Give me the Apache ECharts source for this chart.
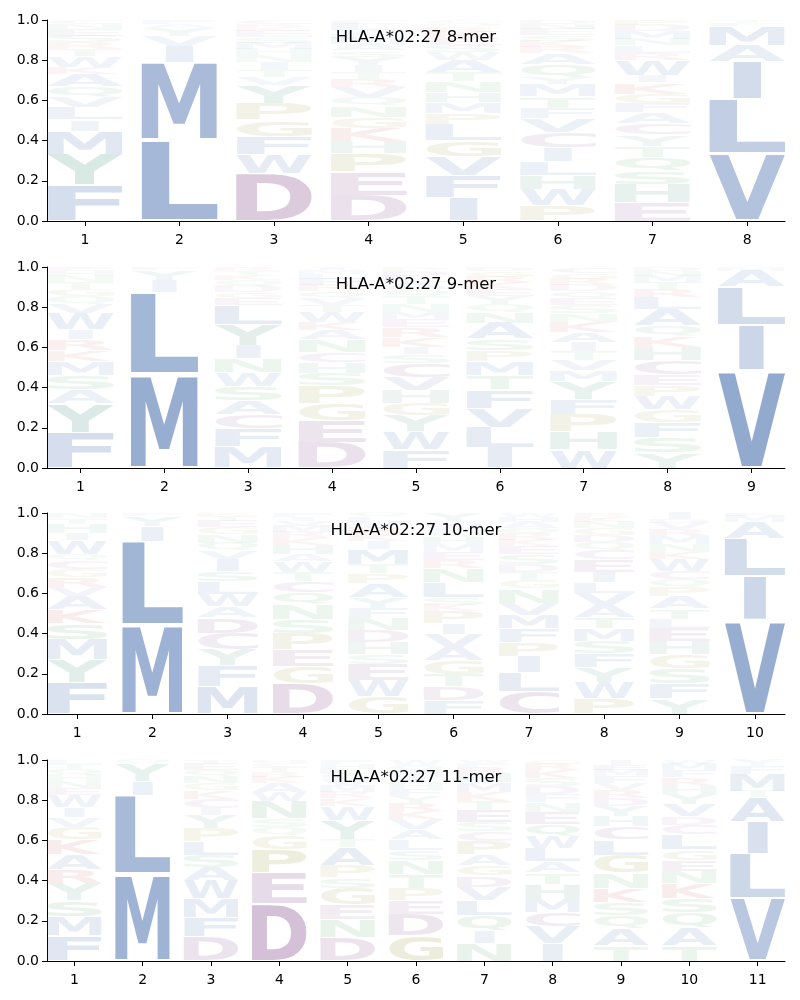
<!DOCTYPE html>
<html>
<head>
<meta charset="utf-8">
<title>HLA-A*02:27 motifs</title>
<script src="https://cdn.jsdelivr.net/npm/echarts@6/dist/echarts.min.js"></script>
<style>
  html, body { margin: 0; background: #fff; }
  #main { width: 800px; height: 1000px; }
</style>
</head>
<body>
<div id="main"></div>
<script>
// one column per peptide position, letters listed bottom -> top with their share
const titles = ['HLA-A*02:27 8-mer', 'HLA-A*02:27 9-mer', 'HLA-A*02:27 10-mer', 'HLA-A*02:27 11-mer'];

const logo8 = [
  [['F',.175],['Y',.15],['M',.115],['I',.055],['L',.06],['V',.05],['Q',.05],['A',.06],['K',.035],['W',.055],['T',.033],['R',.033],['S',.033],['E',.033],['N',.025],['C',.02]],
  [['L',.40],['M',.385],['I',.08],['V',.05],['Y',.04],['A',.02],['F',.02]],
  [['D',.235],['W',.095],['F',.09],['G',.08],['P',.08],['Y',.09],['V',.04],['T',.035],['I',.04],['N',.035],['H',.03],['M',.03],['S',.03],['E',.03],['K',.02],['R',.015],['C',.02]],
  [['D',.125],['E',.115],['P',.09],['H',.06],['K',.065],['G',.055],['N',.055],['Q',.04],['V',.05],['R',.04],['T',.035],['I',.035],['Y',.04],['S',.03],['A',.03],['M',.03],['F',.02],['W',.02],['L',.03],['C',.02]],
  [['I',.115],['F',.11],['V',.095],['G',.08],['L',.08],['P',.055],['M',.055],['H',.05],['N',.055],['T',.045],['A',.06],['W',.04],['S',.035],['E',.035],['K',.03],['R',.025],['Q',.02],['C',.015]],
  [['P',.075],['W',.08],['H',.07],['L',.07],['I',.07],['C',.075],['V',.07],['F',.05],['T',.055],['M',.06],['Y',.035],['Q',.065],['A',.055],['R',.03],['K',.03],['S',.03],['E',.03],['N',.025],['D',.02]],
  [['E',.09],['H',.09],['S',.065],['Q',.065],['T',.055],['Y',.055],['C',.055],['A',.055],['F',.045],['G',.045],['K',.055],['I',.035],['W',.075],['R',.035],['L',.035],['N',.03],['M',.04],['D',.03],['P',.025]],
  [['V',.335],['L',.27],['I',.19],['A',.08],['M',.095],['F',.015],['T',.015]]
];

const logo9 = [
  [['F',.175],['Y',.145],['A',.07],['S',.07],['M',.07],['K',.055],['R',.055],['I',.05],['W',.08],['V',.045],['Q',.04],['G',.035],['T',.035],['N',.03],['H',.025],['E',.02]],
  [['M',.465],['L',.41],['I',.06],['Y',.05],['F',.015]],
  [['M',.105],['F',.09],['C',.07],['A',.07],['S',.07],['W',.07],['N',.07],['I',.065],['Y',.105],['L',.095],['E',.035],['G',.03],['D',.03],['Q',.03],['K',.025],['T',.02],['R',.02]],
  [['D',.125],['E',.105],['G',.085],['P',.085],['S',.06],['H',.055],['C',.05],['N',.06],['A',.045],['K',.04],['W',.05],['T',.035],['V',.035],['Q',.03],['R',.03],['F',.03],['L',.025],['M',.02],['I',.015]],
  [['F',.09],['W',.09],['Y',.08],['G',.06],['H',.065],['V',.065],['C',.07],['S',.045],['I',.035],['K',.05],['R',.05],['E',.04],['M',.035],['N',.04],['T',.04],['Q',.035],['A',.035],['L',.03],['D',.025],['P',.02]],
  [['I',.1],['L',.1],['V',.095],['F',.09],['T',.07],['M',.07],['P',.055],['S',.055],['A',.08],['N',.05],['Q',.04],['Y',.04],['E',.035],['K',.03],['R',.03],['G',.03],['D',.02]],
  [['W',.09],['H',.09],['P',.085],['F',.075],['Y',.085],['M',.055],['V',.05],['T',.045],['I',.045],['A',.05],['K',.05],['N',.04],['S',.04],['E',.035],['Q',.035],['D',.03],['R',.03],['G',.03],['C',.03]],
  [['Y',.075],['S',.075],['F',.075],['G',.065],['W',.065],['P',.055],['E',.05],['C',.07],['H',.065],['K',.055],['Q',.05],['A',.08],['L',.06],['R',.04],['T',.035],['M',.03],['N',.025],['D',.02]],
  [['V',.485],['I',.225],['L',.19],['A',.08],['M',.02]]
];

const logo10 = [
  [['F',.155],['Y',.115],['M',.1],['S',.08],['K',.07],['A',.065],['V',.045],['R',.05],['G',.04],['C',.045],['Q',.03],['W',.07],['I',.035],['H',.045],['T',.03],['N',.025]],
  [['M',.44],['L',.42],['I',.075],['Y',.05],['F',.015]],
  [['M',.135],['F',.1],['Y',.08],['C',.08],['D',.075],['A',.055],['W',.06],['L',.06],['S',.05],['I',.06],['V',.04],['Q',.04],['N',.04],['G',.035],['E',.03],['T',.025],['K',.015]],
  [['D',.15],['G',.085],['E',.08],['P',.08],['S',.07],['N',.075],['Q',.06],['C',.055],['T',.045],['W',.05],['A',.035],['H',.045],['K',.035],['R',.03],['M',.03],['V',.025],['I',.02],['F',.02]],
  [['G',.085],['W',.08],['E',.08],['S',.05],['H',.06],['D',.06],['N',.06],['F',.05],['Y',.05],['A',.07],['P',.05],['T',.045],['M',.075],['I',.04],['K',.035],['R',.03],['V',.03],['L',.025],['Q',.02]],
  [['F',.07],['D',.065],['T',.06],['G',.07],['A',.065],['V',.065],['I',.055],['P',.06],['K',.03],['S',.035],['L',.075],['N',.07],['R',.04],['E',.04],['M',.04],['H',.035],['Q',.03],['W',.03],['C',.02],['Y',.04]],
  [['C',.11],['L',.095],['I',.08],['P',.07],['F',.07],['M',.065],['V',.06],['N',.07],['G',.04],['T',.04],['D',.04],['S',.05],['E',.04],['K',.03],['R',.03],['Q',.03],['A',.03],['H',.025],['W',.02]],
  [['P',.075],['W',.08],['Y',.075],['F',.07],['S',.06],['M',.06],['T',.055],['A',.06],['V',.06],['L',.055],['I',.05],['E',.06],['C',.045],['Q',.04],['D',.035],['G',.035],['N',.03],['K',.025],['R',.02]],
  [['Y',.075],['F',.075],['S',.075],['G',.07],['H',.065],['E',.065],['L',.045],['T',.05],['A',.06],['P',.045],['Q',.04],['C',.04],['W',.06],['K',.035],['N',.04],['M',.04],['R',.035],['V',.03],['D',.02],['I',.03]],
  [['V',.465],['I',.22],['L',.19],['A',.08],['M',.03],['F',.015]]
];

const logo11 = [
  [['F',.125],['M',.095],['S',.08],['Y',.085],['R',.07],['A',.075],['K',.075],['G',.06],['V',.05],['I',.05],['W',.06],['E',.035],['N',.035],['H',.03],['Q',.03],['T',.025],['L',.02]],
  [['M',.43],['L',.39],['I',.07],['Y',.085],['Q',.02]],
  [['D',.12],['F',.095],['M',.09],['W',.09],['A',.065],['S',.06],['L',.065],['P',.065],['Y',.065],['I',.035],['C',.045],['K',.04],['G',.035],['N',.035],['Q',.03],['E',.03],['T',.02]],
  [['D',.28],['E',.155],['P',.115],['G',.07],['Q',.04],['S',.04],['N',.085],['W',.045],['A',.045],['K',.03],['R',.025],['T',.025],['C',.02],['H',.015]],
  [['D',.115],['N',.09],['E',.075],['G',.08],['S',.05],['P',.06],['A',.09],['T',.04],['Y',.095],['W',.07],['K',.035],['R',.03],['M',.03],['V',.03],['Q',.03],['L',.025],['H',.025],['F',.02]],
  [['G',.125],['D',.105],['E',.07],['P',.06],['T',.07],['N',.07],['S',.05],['L',.05],['A',.05],['V',.05],['K',.04],['R',.04],['Y',.035],['F',.035],['H',.03],['I',.03],['M',.03],['Q',.03],['W',.025]],
  [['N',.085],['I',.06],['Q',.075],['L',.075],['V',.065],['D',.055],['G',.05],['A',.055],['P',.065],['C',.045],['S',.045],['E',.06],['T',.045],['K',.045],['M',.045],['H',.04],['R',.035],['F',.02],['W',.015]],
  [['I',.085],['V',.085],['C',.07],['M',.065],['H',.075],['T',.055],['A',.055],['L',.065],['W',.06],['Q',.06],['E',.06],['N',.045],['F',.04],['D',.04],['S',.04],['K',.04],['R',.03],['G',.02]],
  [['T',.075],['A',.085],['Q',.065],['S',.065],['K',.07],['N',.075],['G',.09],['L',.075],['C',.065],['H',.05],['Y',.05],['D',.04],['R',.04],['V',.035],['F',.035],['M',.03],['E',.025],['I',.025]],
  [['T',.075],['A',.085],['Q',.075],['S',.07],['K',.07],['N',.06],['E',.055],['G',.05],['L',.075],['C',.045],['D',.04],['V',.06],['Y',.05],['H',.04],['R',.04],['F',.035],['M',.03],['W',.02]],
  [['V',.31],['L',.22],['I',.16],['A',.12],['T',.03],['M',.085],['F',.04],['Y',.03]]
];

const logos = [logo8, logo9, logo10, logo11];

// residue colours (hydrophobic blue, acidic purple, polar green, basic red ...)
const COLORS = {};
'AVLIMFW'.split('').forEach(c => COLORS[c] = [76, 114, 176]);
'DEC'.split('').forEach(c => COLORS[c] = [136, 82, 144]);
'STNQ'.split('').forEach(c => COLORS[c] = [78, 160, 96]);
'GP'.split('').forEach(c => COLORS[c] = [150, 148, 56]);
'KR'.split('').forEach(c => COLORS[c] = [196, 78, 82]);
'HY'.split('').forEach(c => COLORS[c] = [69, 146, 123]);

const panelTop = [20, 267, 513, 760];
const panelH = 201;
const GLYPH_W = 0.8;
const VPAD = 0.05;
const FONT_PX = 100;
const FONT_FAMILY = 'DejaVu Sans';

// ink box of a glyph, as drawn by zrender (left aligned, middle baseline)
const mctx = document.createElement('canvas').getContext('2d');
const boxCache = {};
function glyphBox(ch) {
  if (boxCache[ch]) return boxCache[ch];
  mctx.font = 'bold ' + FONT_PX + 'px "' + FONT_FAMILY + '"';
  mctx.textAlign = 'left';
  mctx.textBaseline = 'middle';
  const m = mctx.measureText(ch);
  const b = {
    l: m.actualBoundingBoxLeft, r: m.actualBoundingBoxRight,
    a: m.actualBoundingBoxAscent, d: m.actualBoundingBoxDescent
  };
  b.w = b.l + b.r;
  b.h = b.a + b.d;
  boxCache[ch] = b;
  return b;
}

// stack the letters of every column
const letterInfo = logos.map(cols => {
  const out = [];
  cols.forEach((col, i) => {
    const total = col.reduce((s, p) => s + p[1], 0);
    let y = 0;
    col.forEach(([ch, v]) => {
      const h = v / total;
      out.push({ value: [i + 1, y, y + h], ch: ch, h: h });
      y += h;
    });
  });
  return out;
});

function makeRender(k) {
  return function (params, api) {
    const info = letterInfo[k][params.dataIndex];
    const x = api.value(0), y0 = api.value(1), y1 = api.value(2);
    const pad = (y1 - y0) * VPAD / 2;
    const p0 = api.coord([x - GLYPH_W / 2, y1 - pad]);
    const p1 = api.coord([x + GLYPH_W / 2, y0 + pad]);
    const box = glyphBox(info.ch);
    const eBox = glyphBox('E');
    const fullW = p1[0] - p0[0];
    const sx = Math.min(fullW / box.w, fullW / eBox.w);
    const sy = (p1[1] - p0[1]) / box.h;
    const cx = (p0[0] + p1[0]) / 2;
    const alpha = Math.min(0.85, 0.02 + 1.2 * info.h);
    const c = COLORS[info.ch];
    return {
      type: 'text',
      x: cx - sx * (box.r - box.l) / 2,
      y: p0[1] + sy * box.a,
      scaleX: sx,
      scaleY: sy,
      style: {
        text: info.ch,
        x: 0, y: 0,
        align: 'left',
        verticalAlign: 'middle',
        fontSize: FONT_PX,
        fontFamily: FONT_FAMILY,
        fontWeight: 'bold',
        fill: 'rgba(' + c[0] + ',' + c[1] + ',' + c[2] + ',' + alpha.toFixed(3) + ')'
      }
    };
  };
}

const axisText = { color: '#000', fontSize: 14, fontFamily: FONT_FAMILY };
const grids = [], xAxes = [], yAxes = [], series = [], graphics = [];

logos.forEach((cols, k) => {
  const n = cols.length;
  const ticks = cols.map((c, i) => i + 1);
  grids.push({ left: 47, right: 15, top: panelTop[k], height: panelH });
  xAxes.push({
    type: 'value', gridIndex: k, min: 0.6, max: n + 0.4,
    splitLine: { show: false },
    axisLine: { show: true, onZero: false, lineStyle: { color: '#000', width: 1 } },
    axisTick: { show: true, customValues: ticks, length: 5, lineStyle: { color: '#000' } },
    axisLabel: Object.assign({ customValues: ticks, margin: 12 }, axisText)
  });
  yAxes.push({
    type: 'value', gridIndex: k, min: 0, max: 1, interval: 0.2,
    splitLine: { show: false },
    axisLine: { show: true, lineStyle: { color: '#000', width: 1 } },
    axisTick: { show: true, length: 5, lineStyle: { color: '#000' } },
    axisLabel: Object.assign({ margin: 8, formatter: v => v.toFixed(1) }, axisText)
  });
  series.push({
    type: 'custom', name: titles[k],
    xAxisIndex: k, yAxisIndex: k,
    coordinateSystem: 'cartesian2d',
    encode: { x: 0, y: [1, 2] },
    renderItem: makeRender(k),
    data: letterInfo[k].map(d => d.value),
    silent: true
  });
  graphics.push({
    type: 'text', x: 416, y: panelTop[k] + 18,
    style: {
      text: titles[k], align: 'center', verticalAlign: 'middle',
      fontSize: 16.5, fontFamily: FONT_FAMILY, fill: '#000'
    }
  });
});

const chart = echarts.init(document.getElementById('main'), null, { renderer: 'canvas' });
chart.setOption({
  backgroundColor: '#fff',
  animation: false,
  textStyle: { fontFamily: FONT_FAMILY },
  grid: grids,
  xAxis: xAxes,
  yAxis: yAxes,
  series: series,
  graphic: graphics
});
</script>
</body>
</html>
